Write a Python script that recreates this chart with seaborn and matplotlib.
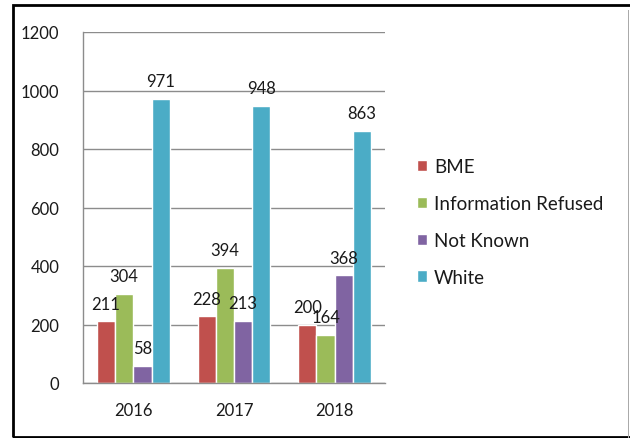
import numpy as np
import pandas as pd
import seaborn as sns
import matplotlib.pyplot as plt
from matplotlib.patches import Rectangle

years = ["2016", "2017", "2018"]
groups = ["BME", "Information Refused", "Not Known", "White"]
bme = [211, 228, 200]
info_refused = [304, 394, 164]
not_known = [58, 213, 368]
white = [971, 948, 863]
colours = ["#C0504D", "#9BBB59", "#8064A2", "#4BACC6"]

sns.set_style("white")
plt.rcParams['font.family'] = ['Lato', 'DejaVu Sans']

rows = []
for g, vals in zip(groups, [bme, info_refused, not_known, white]):
    for y, v in zip(years, vals):
        rows.append({"Year": y, "Group": g, "Count": v})
df = pd.DataFrame(rows)

fig = plt.figure(figsize=(6.3, 4.39), dpi=100)
ax = fig.add_axes([83/630, 1 - 384/439, (385 - 83)/630, (384 - 33)/439])

sns.barplot(data=df, x="Year", y="Count", hue="Group", order=years, hue_order=groups,
            palette=colours, width=0.725, saturation=1, ax=ax, legend=True)

for c in ax.containers:
    ax.bar_label(c, padding=7, fontsize=12, color="#1a1a1a")

ax.set_ylim(0, 1200)
ax.set_yticks(range(0, 1201, 200))
ax.set_xlim(-0.5, 2.5)
ax.set_xlabel("")
ax.set_ylabel("")
ax.yaxis.grid(True, color="#8c8c8c", linewidth=1)
ax.set_axisbelow(True)
for s in ["top", "right"]:
    ax.spines[s].set_visible(False)
for s in ["left", "bottom"]:
    ax.spines[s].set_color("#8c8c8c")
    ax.spines[s].set_linewidth(1)

ax.tick_params(axis="y", length=6, color="#8c8c8c", pad=11, labelsize=12, labelcolor="#1a1a1a")
ax.tick_params(axis="x", which="major", length=0, pad=14, labelsize=12, labelcolor="#1a1a1a")
ax.set_xticks([-0.5, 0.5, 1.5, 2.5], minor=True)
ax.tick_params(axis="x", which="minor", length=7, color="#8c8c8c")

handles, labels = ax.get_legend_handles_labels()
ax.legend_.remove()
fig.legend(handles, labels, loc="center left", bbox_to_anchor=(400/630, 1 - 223/439),
           frameon=False, fontsize=13.5, handlelength=0.55, handleheight=0.55,
           handletextpad=0.35, labelspacing=1.05, labelcolor="#1a1a1a")

# chart border like the screenshot
fig.patches.append(Rectangle((13/630, 1/439), 1.2, 432/439, transform=fig.transFigure,
                             fill=False, edgecolor="black", linewidth=2))
fig.patches.append(Rectangle((628/630, 0), 0.001, 428/439, transform=fig.transFigure,
                             color="#aaaaaa", linewidth=0))

fig.savefig("out.png", dpi=100)
